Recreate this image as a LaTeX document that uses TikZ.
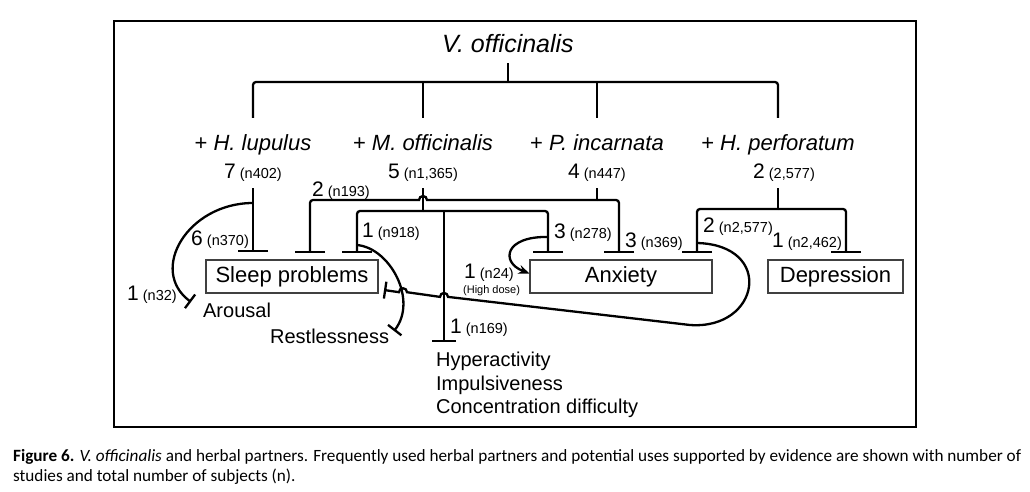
\documentclass[tikz,border=0pt]{standalone}
\usepackage{fontspec}
\setmainfont{Liberation Sans}
\newfontfamily\capfont{Carlito}
\usetikzlibrary{arrows.meta,calc}

% number of studies (big) and subjects (small)
\newcommand{\nlab}[2]{{\fontsize{21}{25}\selectfont #1}{\fontsize{14.5}{17}\selectfont\ (#2)}}

\begin{document}
\begin{tikzpicture}[x=1pt, y=-1pt, line width=2.3pt,
  every node/.style={inner sep=0pt},
  herb/.style={anchor=base, font=\fontsize{22}{26}\selectfont},
  box/.style={draw=black!75, line width=1.2pt, minimum height=33pt, font=\fontsize{22}{26}\selectfont},
  effect/.style={anchor=base west, font=\fontsize{20}{24}\selectfont},
  tree/.style={rounded corners=3pt},
  inhib/.style={-{Bar[width=30pt]}, shorten >=7pt},
  curveinh/.style={-{Bar[width=17pt]}}]
\useasboundingbox (0,0) rectangle (1030,492);
\node[draw, line width=1.3pt, minimum width=802pt, minimum height=406pt] (frame) at (515,224) {};

% root and partners
\node[anchor=base, font=\fontsize{25}{30}\selectfont\itshape] (valer) at (508,53) {V. officinalis};
\node[herb] (lup) at (253,150) {+ \textit{H. lupulus}};
\node[herb] (mel) at (423,150) {+ \textit{M. officinalis}};
\node[herb] (pas) at (597,150) {+ \textit{P. incarnata}};
\node[herb] (hyp) at (778,150) {+ \textit{H. perforatum}};
\node[anchor=base] (lupn) at (253,178) {\nlab{7}{n402}};
\node[anchor=base] (meln) at (423,178) {\nlab{5}{n1,365}};
\node[anchor=base] (pasn) at (597,178) {\nlab{4}{n447}};
\node[anchor=base] (hypn) at (784,178) {\nlab{2}{2,577}};

% uses
\node[box, minimum width=172pt] (sleep) at (292,276.5) {Sleep problems};
\node[box, minimum width=182pt] (anx) at (621,276.5) {Anxiety};
\node[box, minimum width=135pt] (dep) at (835.5,276.5) {Depression};
\node[effect] (arous) at (202,317) {Arousal};
\node[effect] (restl) at (269,343) {Restlessness};
\node[anchor=north west, align=left, font=\fontsize{20}{23.5}\selectfont] (hyper) at (435,351) {Hyperactivity\\Impulsiveness\\Concentration difficulty};

% study counts on the links
\node[anchor=base east] (l1) at (250,245) {\nlab{6}{n370}};
\node[anchor=base west] (l2) at (311,196) {\nlab{2}{n193}};
\node[anchor=base west] (l3) at (361,237) {\nlab{1}{n918}};
\node[anchor=base west] (l4) at (553,238) {\nlab{3}{n278}};
\node[anchor=base west] (l5) at (624,247) {\nlab{3}{n369}};
\node[anchor=base west] (l6) at (702,232) {\nlab{2}{n2,577}};
\node[anchor=base east] (l7) at (843,247) {\nlab{1}{n2,462}};
\node[anchor=base west] (l8) at (126,300) {\nlab{1}{n32}};
\node[anchor=base west] (l9) at (463,278) {\nlab{1}{n24}};
\node[anchor=base west, font=\fontsize{11}{13}\selectfont] (l9b) at (462,293) {(High dose)};
\node[anchor=base west] (l10) at (449,333) {\nlab{1}{n169}};

% junctions
\coordinate (top) at (508,82);
\coordinate (melJ) at (423,211);
\coordinate (melK) at (444,211);
\coordinate (pasJ) at (597,200);
\coordinate (hypJ) at (778,209);
\coordinate (hopA) at (423,200);
\coordinate (hopB) at (444,296.9);
\coordinate (hopC) at (403,292.2);
\coordinate (spB) at (310,260);
\coordinate (spC) at (357,260);
\coordinate (spR) at (384,290);
\coordinate (axA) at (548,260);
\coordinate (axB) at (619,260);
\coordinate (axC) at (697,260);
\coordinate (dpA) at (846,260);
\coordinate (hyT) at (444,342);
\coordinate (arA) at (253,203);
\coordinate (arT) at (191,302);
\coordinate (rsA) at (357,245);
\coordinate (rsT) at (394,331);
\coordinate (hdA) at (548,237);
\coordinate (lpA) at (697,243);
\coordinate (lpB) at (690,325);

% root tree
\draw[shorten <=9pt] (valer.south) -- (top);
\draw[tree] ([yshift=15pt]lup.north) |- (top) -| ([yshift=15pt]hyp.north);
\draw ([yshift=15pt]mel.north) -- (mel.north |- top);
\draw ([yshift=15pt]pas.north) -- (pas.north |- top);

% H. lupulus
\draw[inhib, shorten <=10pt] (lupn.base) -- (lupn.base |- sleep.north);
\draw[curveinh] (arA) .. controls (188,203) and (148,270) .. (arT);

% M. officinalis
\draw[shorten <=10pt] (meln.base) -- (melJ);
\draw[inhib, tree] (melJ) -| (spC);
\draw[inhib, tree] (melJ) -| (axA);
\draw[-{Bar[width=24pt]}] (melK) -- (hyT);
\draw[curveinh] (rsA) .. controls (390,248) and (418,300) .. (rsT);
\draw[-{Stealth[length=11pt,width=9pt]}] (hdA) .. controls (505,236) and (500,262) .. ([yshift=3pt]anx.west);

% P. incarnata
\draw[shorten <=10pt] (pasn.base) -- (pasJ);
\draw[inhib] (pasJ) -- ([xshift=4pt]hopA) arc[start angle=0, end angle=180, radius=4pt] [rounded corners=3pt] -| (spB);
\draw[inhib, tree] (pasJ) -| (axB);

% H. perforatum
\draw[shorten <=10pt] (hypn.base -| hypJ) -- (hypJ);
\draw[inhib, tree] (hypJ) -| (axC);
\draw[inhib, tree] (hypJ) -| (dpA);
\draw[curveinh] (lpA) .. controls (775,245) and (760,330) .. (lpB) -- ([xshift=4pt]hopB) arc[start angle=0, end angle=180, radius=4pt] -- ([xshift=4pt]hopC) arc[start angle=0, end angle=180, radius=4pt] -- (spR);

% caption
\node[anchor=base west, font=\capfont\fontsize{17.2}{21}\selectfont] (cap1) at (12,461) {\makebox[1008pt][s]{\textbf{Figure 6.} \textit{V. officinalis} and herbal partners. Frequently used herbal partners and potential uses supported by evidence are shown with number of}};
\node[anchor=base west, font=\capfont\fontsize{17.2}{21}\selectfont] (cap2) at (12,481) {studies and total number of subjects (n).};
\end{tikzpicture}
\end{document}
